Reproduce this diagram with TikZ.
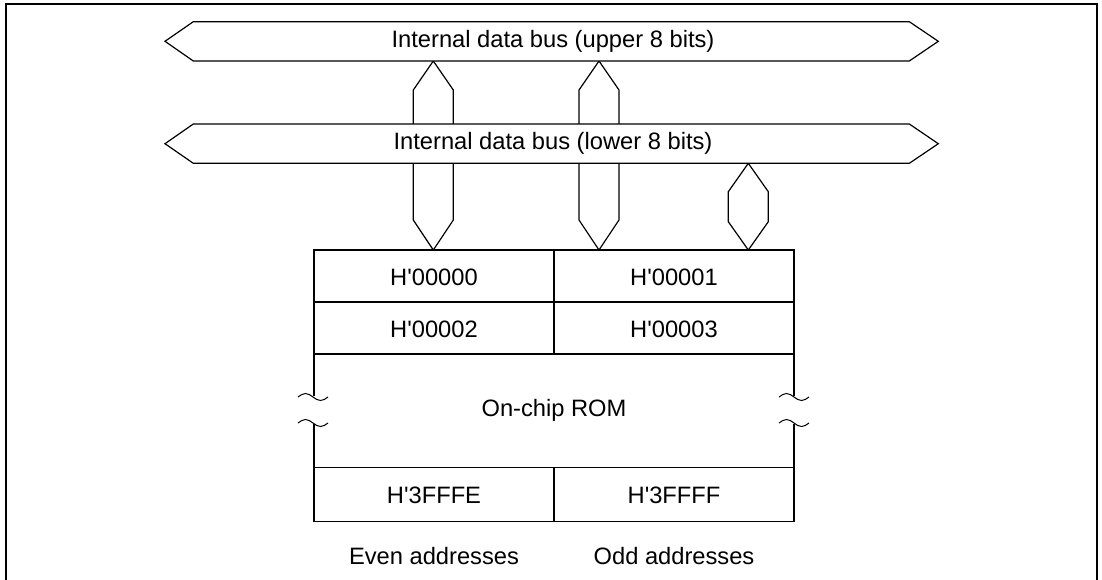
\documentclass[tikz,border=0pt]{standalone}
\usepackage{fontspec}
\setmainfont{Liberation Sans}
\newcommand{\sq}{\textquotesingle}
\begin{document}
\begin{tikzpicture}[x=1pt,y=-1pt,
  shapeline/.style={draw=black,line width=1.2pt,fill=white,line join=miter},
  tline/.style={draw=black,line width=1.2pt},
  wavy/.style={draw=black,line width=1pt},
  lbl/.style={font=\fontsize{23.7}{28}\selectfont,inner sep=0pt},
  frameline/.style={draw=black,line width=2pt}]
\useasboundingbox (0,0) rectangle (1102,579);
% frame
\draw[frameline] (5.5,580) -- (5.5,4.3) -- (1096.7,4.3) -- (1096.7,580);
% connectors
\draw[shapeline] (433.3,61) -- (453.3,90) -- (453.3,220) -- (433.3,250) -- (413.3,220) -- (413.3,90) -- cycle;
\draw[shapeline] (599,61) -- (619,90) -- (619,220) -- (599,250) -- (579,220) -- (579,90) -- cycle;
\draw[shapeline] (748.3,163.3) -- (768.3,191.7) -- (768.3,221.7) -- (748.3,250) -- (728.3,221.7) -- (728.3,191.7) -- cycle;
% buses
\draw[shapeline] (165,41.3) -- (193.3,21.7) -- (909.3,21.7) -- (938.3,41.3) -- (909.3,61) -- (193.3,61) -- cycle;
\draw[shapeline] (165,143.7) -- (193.3,124) -- (909.3,124) -- (938.3,143.7) -- (909.3,163.3) -- (193.3,163.3) -- cycle;
\node[lbl] (ubus) at (553,41.3) {Internal data bus (upper 8 bits)};
\node[lbl] (lbus) at (553,143.7) {Internal data bus (lower 8 bits)};
% ROM table top
\draw[tline] (314,250) rectangle (794,354);
\draw[tline] (314,302) -- (794,302);
\draw[tline] (554,250) -- (554,354);
\draw[tline] (314,354) -- (314,396);
\draw[tline] (794,354) -- (794,396);
\draw[tline] (314,424) -- (314,467.5);
\draw[tline] (794,424) -- (794,467.5);
\draw[tline] (314,467.5) rectangle (794,521.5);
\draw[tline] (554,467.5) -- (554,521.5);
% break marks
\foreach \bx in {298,779}{
  \foreach \by in {397,423}{
    \draw[wavy] (\bx,\by) sin (\bx+7.5,\by-3.5) cos (\bx+15,\by) sin (\bx+22.5,\by+3.5) cos (\bx+30,\by);
  }
}
% texts
\node[lbl] (a0) at (434,277) {H\sq 00000};
\node[lbl] (a1) at (674,277) {H\sq 00001};
\node[lbl] (a2) at (434,329) {H\sq 00002};
\node[lbl] (a3) at (674,329) {H\sq 00003};
\node[lbl] (rom) at (554,410) {On-chip ROM};
\node[lbl] (a4) at (434,495) {H\sq 3FFFE};
\node[lbl] (a5) at (674,495) {H\sq 3FFFF};
\node[lbl,anchor=base] (even) at (434,564) {Even addresses};
\node[lbl,anchor=base] (odd) at (674,564) {Odd addresses};
\end{tikzpicture}
\end{document}
